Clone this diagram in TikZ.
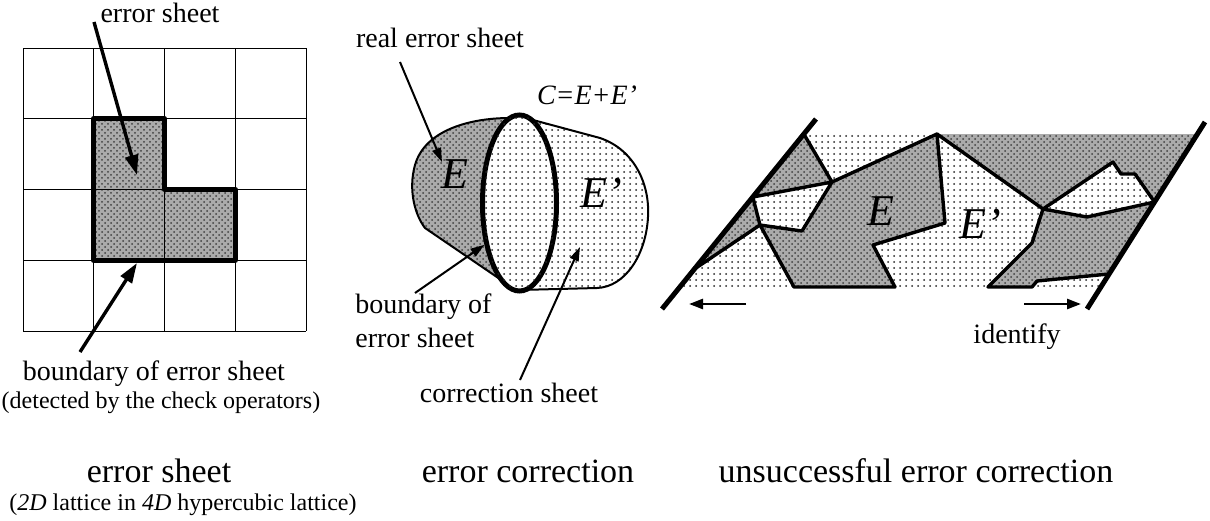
\documentclass[tikz,border=0pt]{standalone}
\usepackage{fontspec}
\setmainfont{Liberation Serif}
\usetikzlibrary{arrows.meta, patterns, shapes.geometric}

\begin{document}
\begin{tikzpicture}[
    x=0.5pt, y=-0.5pt,
    lbl/.style={font=\fontsize{14}{17}\selectfont, inner sep=0pt},
    note/.style={font=\fontsize{12}{14}\selectfont, inner sep=0pt},
    capt/.style={font=\fontsize{17}{20}\selectfont, inner sep=0pt},
    sym/.style={font=\fontsize{22}{26}\selectfont\itshape, inner sep=0pt},
    darkdots/.style={fill=black!33, postaction={pattern=crosshatch dots, pattern color=black!75}},
    lightdots/.style={fill=white, postaction={pattern=dots, pattern color=black!85}},
    gridline/.style={line width=0.5pt},
    rim/.style={line width=2.5pt, line join=round},
    cell/.style={line width=1.7pt, line join=round},
    bigarr/.style={-{Triangle[length=10pt,width=6.5pt]}, line width=1.7pt},
    arr/.style={-{Triangle[length=7pt,width=4.5pt]}, line width=1pt},
    shiftarr/.style={-{Triangle[length=7pt,width=5pt]}, line width=1.3pt}
  ]
  \useasboundingbox (0,0) rectangle (1210,520);

  % error sheet on the lattice
  \fill[darkdots] (93.75,118.75) -- (164.5,118.75) -- (164.5,189.5) -- (235.25,189.5) -- (235.25,260.25) -- (93.75,260.25) -- cycle;
  \foreach \k in {0,...,4} {
    \draw[gridline] (23+70.75*\k,48) -- (23+70.75*\k,331);
    \draw[gridline] (23,48+70.75*\k) -- (306,48+70.75*\k);
  }
  \draw[rim] (93.75,118.75) -- (164.5,118.75) -- (164.5,189.5) -- (235.25,189.5) -- (235.25,260.25) -- (93.75,260.25) -- cycle;

  \node[lbl, anchor=base] (sheet) at (160,22) {error sheet};
  \coordinate (sheetfrom) at (94,22);
  \coordinate (sheetto) at (137,175);
  \draw[bigarr] (sheetfrom) -- (sheetto);
  \node[lbl, anchor=base] (bndry) at (154,380) {boundary of error sheet};
  \node[note, anchor=base] (detect) at (161,408) {(detected by the check operators)};
  \coordinate (bndryfrom) at (80,352);
  \coordinate (bndryto) at (137,263);
  \draw[bigarr] (bndryfrom) -- (bndryto);
  \node[capt, anchor=base] (capa) at (159,482) {error sheet};
  \node[note, anchor=base] (capasub) at (183,510) {(\textit{2D} lattice in \textit{4D} hypercubic lattice)};

  % error correction
  \fill[darkdots] (519,115) -- (510,118) .. controls (470,118) and (425,130) .. (415,165)
    .. controls (408,190) and (415,215) .. (425,228) -- (513,288) -- (519,290) -- cycle;
  \fill[lightdots] (519,115) -- (533,120) -- (600,138) .. controls (635,150) and (650,185) .. (648,217)
    .. controls (646,255) and (625,287) .. (597,288) -- (519,290) -- cycle;
  \draw[line width=1pt] (510,118) .. controls (470,118) and (425,130) .. (415,165)
    .. controls (408,190) and (415,215) .. (425,228) -- (513,288);
  \draw[line width=1pt] (533,120) -- (600,138) .. controls (635,150) and (650,185) .. (648,217)
    .. controls (646,255) and (625,287) .. (597,288) -- (519,290);
  \node[ellipse, lightdots, draw, line width=2.5pt, minimum width=37pt, minimum height=88pt, inner sep=0pt] (bnd) at (519.5,203) {};
  \node[sym, anchor=base] (e1) at (455,188) {E};
  \node[sym, anchor=base] (e2) at (601,207) {E’};
  \node[lbl, anchor=base] (ceq) at (587,104) {\textit{C=E+E’}};

  \node[lbl, anchor=base] (real) at (440,47) {real error sheet};
  \coordinate (realfrom) at (400,62);
  \coordinate (realto) at (442,162);
  \draw[arr] (realfrom) -- (realto);
  \node[lbl, anchor=base west] (bnd1) at (355,313) {boundary of};
  \node[lbl, anchor=base west] (bnd2) at (355,347) {error sheet};
  \coordinate (bndfrom) at (415,293);
  \draw[arr] (bndfrom) -- (bnd.230);
  \node[lbl, anchor=base] (corr) at (509,402) {correction sheet};
  \coordinate (corrfrom) at (520,380);
  \coordinate (corrto) at (580,247);
  \draw[arr] (corrfrom) -- (corrto);
  \node[capt, anchor=base] (capb) at (528,482) {error correction};

  % unsuccessful error correction
  \coordinate (tl) at (803.8,134);
  \coordinate (tr) at (1197.1,134);
  \coordinate (bl) at (679.8,287);
  \coordinate (br) at (1100.8,287);
  \coordinate (pB) at (832,182);
  \coordinate (pJ) at (752.8,197);
  \coordinate (pI) at (760,225);
  \coordinate (pK) at (802,231);
  \coordinate (pL) at (694.4,269);
  \coordinate (pH) at (794,287);
  \coordinate (pG) at (895,287);
  \coordinate (pF) at (873,245);
  \coordinate (pD) at (945,223);
  \coordinate (pC) at (937,134);
  \coordinate (pM) at (1043,209);
  \coordinate (pS) at (1032,243);
  \coordinate (pT) at (988,287);
  \coordinate (pU) at (1032,287);
  \coordinate (pV) at (1037,281);
  \coordinate (pW) at (1109,274);
  \coordinate (pN) at (1113,162);
  \coordinate (pO) at (1121,174);
  \coordinate (pP) at (1135,174);
  \coordinate (pQ) at (1154.5,202);
  \coordinate (pR) at (1087,217);

  \fill[darkdots] (tl) -- (pB) -- (pJ) -- cycle;
  \fill[lightdots] (pJ) -- (pB) -- (pK) -- (pI) -- cycle;
  \fill[darkdots] (pJ) -- (pI) -- (pL) -- cycle;
  \fill[lightdots] (pL) -- (pI) -- (pH) -- (bl) -- cycle;
  \fill[darkdots] (pB) -- (pC) -- (pD) -- (pF) -- (pG) -- (pH) -- (pI) -- (pK) -- cycle;
  \fill[lightdots] (tl) -- (pC) -- (pB) -- cycle;
  \fill[lightdots] (pC) -- (pM) -- (pS) -- (pT) -- (pG) -- (pF) -- (pD) -- cycle;
  \fill[darkdots] (pC) -- (tr) -- (pQ) -- (pP) -- (pO) -- (pN) -- (pM) -- cycle;
  \fill[lightdots] (pM) -- (pN) -- (pO) -- (pP) -- (pQ) -- (pR) -- cycle;
  \fill[darkdots] (pM) -- (pR) -- (pQ) -- (pW) -- (pV) -- (pU) -- (pT) -- (pS) -- cycle;
  \fill[lightdots] (pV) -- (pW) -- (br) -- (pU) -- cycle;

  \draw[cell] (tl) -- (pB) -- (pJ) -- (pI) -- (pK) -- (pB) -- (pC) -- (pD) -- (pF) -- (pG) -- (pH) -- (pI) -- (pL);
  \draw[cell] (pC) -- (pM) -- (pS) -- (pT) -- (pU) -- (pV) -- (pW);
  \draw[cell] (pM) -- (pN) -- (pO) -- (pP) -- (pQ);
  \draw[cell] (pM) -- (pR) -- (pQ);

  \coordinate (la) at (662,309);
  \coordinate (lb) at (816,119);
  \coordinate (ra) at (1087,309);
  \coordinate (rb) at (1205,122);
  \draw[rim] (la) -- (lb);
  \draw[rim] (ra) -- (rb);

  \node[sym, anchor=base] (e3) at (880.5,225) {E};
  \node[sym, anchor=base] (e4) at (980,238) {E’};
  \coordinate (lfrom) at (746,304);
  \coordinate (lto) at (689,304);
  \draw[shiftarr] (lfrom) -- (lto);
  \coordinate (rfrom) at (1024,304);
  \coordinate (rto) at (1081,304);
  \draw[shiftarr] (rfrom) -- (rto);
  \node[lbl, anchor=base] (ident) at (1017,343) {identify};
  \node[capt, anchor=base] (capc) at (916,482) {unsuccessful error correction};
\end{tikzpicture}
\end{document}
